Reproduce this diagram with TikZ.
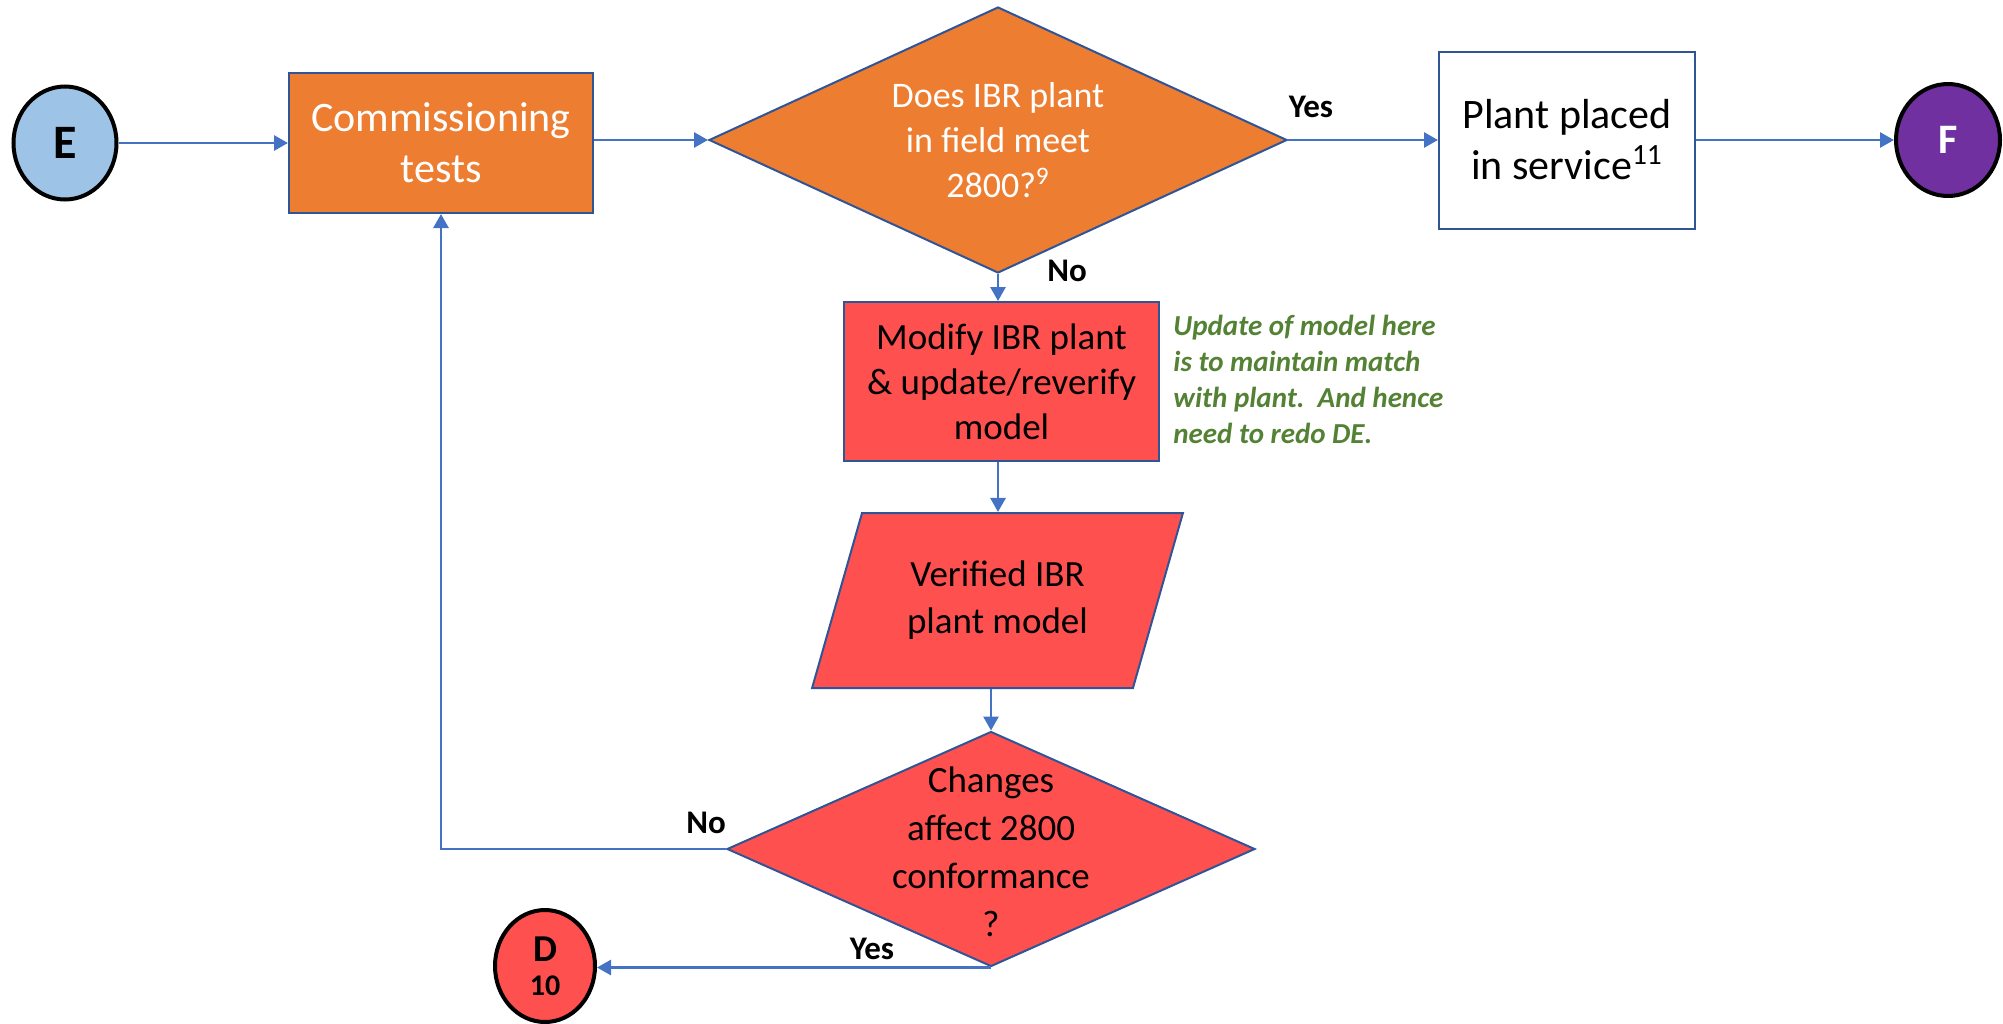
\documentclass[tikz,border=0pt]{standalone}
\usepackage{fontspec}
\setmainfont{Carlito}
\usetikzlibrary{arrows.meta,shapes.geometric,calc}

\definecolor{boxorange}{HTML}{ED7D31}
\definecolor{boxred}{HTML}{FF5050}
\definecolor{linkblue}{HTML}{4472C4}
\definecolor{edgeblue}{HTML}{2F5597}
\definecolor{termblue}{HTML}{9DC3E6}
\definecolor{termpurple}{HTML}{7030A0}
\definecolor{notegreen}{HTML}{548235}

\tikzset{
  flowbox/.style={draw=edgeblue, line width=1pt, rectangle, inner sep=0pt, align=center},
  decision/.style={draw=edgeblue, line width=1pt, diamond, inner sep=0pt},
  databox/.style={draw=edgeblue, line width=1pt, trapezium, trapezium left angle=67,
    trapezium right angle=113, trapezium stretches=true, inner sep=0pt, align=center},
  terminal/.style={draw=black, line width=2pt, ellipse, inner sep=0pt, align=center},
  link/.style={draw=linkblue, line width=1.4pt, -{Triangle[length=7pt,width=7.5pt]}},
  branch/.style={font=\fontsize{16.5}{19}\selectfont\bfseries},
  midtext/.style={font=\fontsize{18.5}{22.5}\selectfont},
}

\begin{document}
\begin{tikzpicture}[x=0.5pt,y=-0.5pt]
\useasboundingbox (0,0) rectangle (2003,1023);

% terminals
\node[terminal, fill=termblue, minimum width=51.5pt, minimum height=56.5pt,
      font=\fontsize{24}{27}\selectfont\bfseries] (E) at (65,143) {E};
\node[terminal, fill=termpurple, text=white, minimum width=52pt, minimum height=56pt,
      font=\fontsize{21}{25}\selectfont\bfseries] (F) at (1948,140) {F};
\node[terminal, fill=boxred, minimum width=50pt, minimum height=56pt] (D) at (545,966)
      {\fontsize{19}{19}\selectfont\bfseries D\\[5pt]\fontsize{15}{15}\selectfont\bfseries 10};

% process boxes
\node[flowbox, fill=boxorange, text=white, minimum width=152pt, minimum height=70pt,
      font=\fontsize{21}{25.5}\selectfont] (comm) at (441,143) {Commissioning\\tests};
\node[flowbox, fill=white, minimum width=128pt, minimum height=88.5pt,
      font=\fontsize{21}{25.5}\selectfont] (plant) at (1567,140) {Plant placed\\in service\textsuperscript{11}};
\node[flowbox, fill=boxred, minimum width=157.5pt, minimum height=79.5pt, midtext]
      (mod) at (1001.5,381.5) {Modify IBR plant\\\& update/reverify\\model};
\node[databox, fill=boxred, minimum width=185.5pt, minimum height=87.5pt,
      font=\fontsize{18.5}{23.5}\selectfont] (para) at (997.5,600.5) {Verified IBR\\plant model};

% decisions
\node[decision, fill=boxorange, minimum width=289pt, minimum height=133pt] (d1) at (998,140) {};
\node[text=white, align=center, font=\fontsize{18}{22.5}\selectfont] (d1text) at (d1.center)
      {Does IBR plant\\in field meet\\2800?\textsuperscript{9}};
\node[decision, fill=boxred, minimum width=264pt, minimum height=117.5pt] (d2) at (991,849) {};
\node[align=center, font=\fontsize{18.5}{24}\selectfont, yshift=-1.5pt] (d2text) at (d2.center)
      {Changes\\affect 2800\\conformance\\?};

% note
\node[anchor=north west, inner sep=0pt, align=left, text=notegreen,
      font=\fontsize{14.5}{17.9}\selectfont\bfseries\itshape] (note) at (1173,315)
      {Update of model here\\is to maintain match\\with plant.\ \ And hence\\need to redo DE.};

% branch labels
\node[branch] (yes1) at (1311,107) {Yes};
\node[branch] (no1) at (1067,271) {No};
\node[branch] (no2) at (706,823) {No};
\node[branch] (yes2) at (872,949) {Yes};

% connectors
\draw[link] (E.east) -- (comm.west);
\draw[link] (comm.east |- d1.west) -- (d1.west);
\draw[link] (d1.east) -- (plant.west);
\draw[link] (plant.east) -- (F.west);
\draw[link] (d1.south) -- (d1.south |- mod.north);
\draw[link] (d1.south |- mod.south) -- (d1.south |- para.north);
\draw[link] (d2.north |- para.south) -- (d2.north);
\draw[link] (d2.west) -- (comm.south |- d2.west) -- (comm.south);
\draw[link] (d2.south) -- (d2.south -| D.east);
\end{tikzpicture}
\end{document}
